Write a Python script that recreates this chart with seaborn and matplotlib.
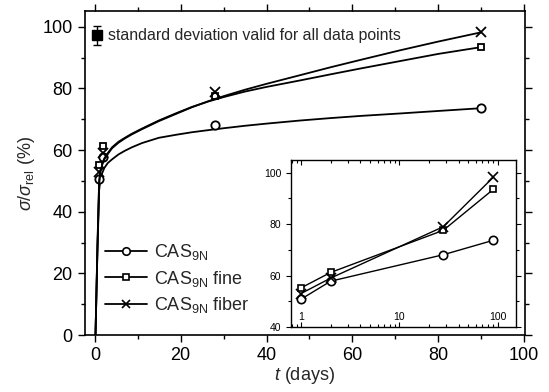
import numpy as np
import matplotlib
matplotlib.use("Agg")
import matplotlib.pyplot as plt
import seaborn as sns
from matplotlib.lines import Line2D
from matplotlib.ticker import MultipleLocator, LogLocator, NullFormatter

# measured points (days, % of reference strength)
t_days = [1, 2, 28, 90]
cas = [50.8, 57.8, 68.1, 73.7]
cas_fine = [55.2, 61.2, 77.6, 93.5]
cas_fiber = [53.0, 59.0, 79.0, 98.2]

# fit curves
fit_t = [0.15, 0.6, 1.0, 1.3, 1.7, 2.2, 3, 4, 5.5, 7, 8.6, 11, 14.9, 19, 22.6, 26.5,
         30, 35, 40, 47.8, 55, 62, 71.2, 80, 90]
fit_cas = [0, 27, 47, 50.5, 52.5, 54.2, 55.8, 57.0, 58.6, 59.8, 60.9, 62.3, 64.0, 65.0,
           65.8, 66.5, 67.1, 67.9, 68.6, 69.6, 70.4, 71.1, 71.9, 72.7, 73.6]
fit_fine = [0, 29, 50, 53.5, 55.5, 57.3, 59.0, 60.9, 62.7, 64.0, 65.3, 67.0, 69.6, 72.0,
            74.0, 75.8, 77.2, 79.0, 80.5, 82.6, 84.6, 86.5, 88.9, 91.2, 93.4]
fit_fiber = [0, 28, 49, 53, 55.2, 57.0, 58.7, 60.6, 62.4, 63.8, 65.1, 66.8, 69.4, 71.8,
             73.9, 75.9, 77.5, 79.6, 81.5, 84.3, 86.9, 89.3, 92.4, 95.2, 98.2]

labels = ["CAS$_\\mathrm{9N}$", "CAS$_\\mathrm{9N}$ fine", "CAS$_\\mathrm{9N}$ fiber"]

sns.set_theme(style="ticks")
plt.rcParams["font.family"] = ["Liberation Sans", "DejaVu Sans"]
plt.rcParams["mathtext.fontset"] = "custom"
plt.rcParams["mathtext.rm"] = "Liberation Sans"
plt.rcParams["mathtext.it"] = "Liberation Sans:italic"

fig = plt.figure(figsize=(5.49, 3.92), dpi=100)
ax = fig.add_axes([0.154, 0.145, 0.802, 0.826])

series = [(cas, fit_cas, "o", 6), (cas_fine, fit_fine, "s", 5), (cas_fiber, fit_fiber, "x", 7)]
for vals, fit, mk, ms in series:
    sns.lineplot(x=fit_t, y=fit, ax=ax, color="black", lw=1.3, sort=False)
    ax.plot(t_days, vals, ls="none", marker=mk, ms=ms, mfc="white", mec="black",
            mew=1.3, color="black")

# error bar marker for std dev
ax.errorbar([0.5], [97.2], yerr=[[3.1], [3.1]], fmt="s", ms=7, color="black",
            ecolor="black", elinewidth=1, capsize=3)
ax.text(3.0, 97.2, "standard deviation valid for all data points", fontsize=11.4,
        va="center", ha="left")

ax.set_xlim(-2.4, 100.2)
ax.set_ylim(0, 105)
ax.xaxis.set_major_locator(MultipleLocator(20))
ax.xaxis.set_minor_locator(MultipleLocator(10))
ax.yaxis.set_major_locator(MultipleLocator(20))
ax.yaxis.set_minor_locator(MultipleLocator(10))
ax.tick_params(which="both", direction="out", top=True, right=True, color="black",
               width=1, labelsize=13, labelcolor="black")
ax.tick_params(which="major", length=5)
ax.tick_params(which="minor", length=3)
for s in ax.spines.values():
    s.set_color("black")
    s.set_linewidth(1.2)
ax.set_xlabel("$t$ (days)", fontsize=13, labelpad=1)
ax.set_ylabel("$\\sigma/\\sigma_\\mathrm{rel}$ (%)", fontsize=13, labelpad=4)

handles = [Line2D([], [], color="black", lw=1.3, marker=mk, ms=ms * 0.9, mfc="white",
                  mec="black", mew=1.2) for _, _, mk, ms in series]
ax.legend(handles, labels, loc="lower left", bbox_to_anchor=(0.03, 0.04), frameon=False,
          fontsize=13, handlelength=2.3, handletextpad=0.4, labelspacing=0.35,
          borderaxespad=0)

# inset with log time axis
ins = fig.add_axes([0.530, 0.166, 0.409, 0.426])
for vals, fit, mk, ms in series:
    sns.lineplot(x=t_days, y=vals, ax=ins, color="black", lw=1, marker=mk, ms=ms,
                 mfc="white", mec="black", mew=1.2)
ins.set_xscale("log")
ins.set_xlim(0.79, 152)
ins.set_ylim(40, 105)
ins.set_xticks([1, 10, 100])
ins.set_xticklabels(["1", "10", "100"])
ins.xaxis.set_minor_locator(LogLocator(subs=np.arange(2, 10)))
ins.xaxis.set_minor_formatter(NullFormatter())
ins.yaxis.set_major_locator(MultipleLocator(20))
ins.yaxis.set_minor_locator(MultipleLocator(10))
ins.tick_params(which="both", direction="out", top=True, right=True, color="black",
                width=0.8, labelsize=7.5, labelcolor="black")
ins.tick_params(axis="x", which="both", direction="in", pad=-11)
ins.tick_params(which="major", length=3.5)
ins.tick_params(which="minor", length=2)
for s in ins.spines.values():
    s.set_color("black")
    s.set_linewidth(1)
ins.set_xlabel("")
ins.set_ylabel("")

fig.savefig("out.png", dpi=100)
